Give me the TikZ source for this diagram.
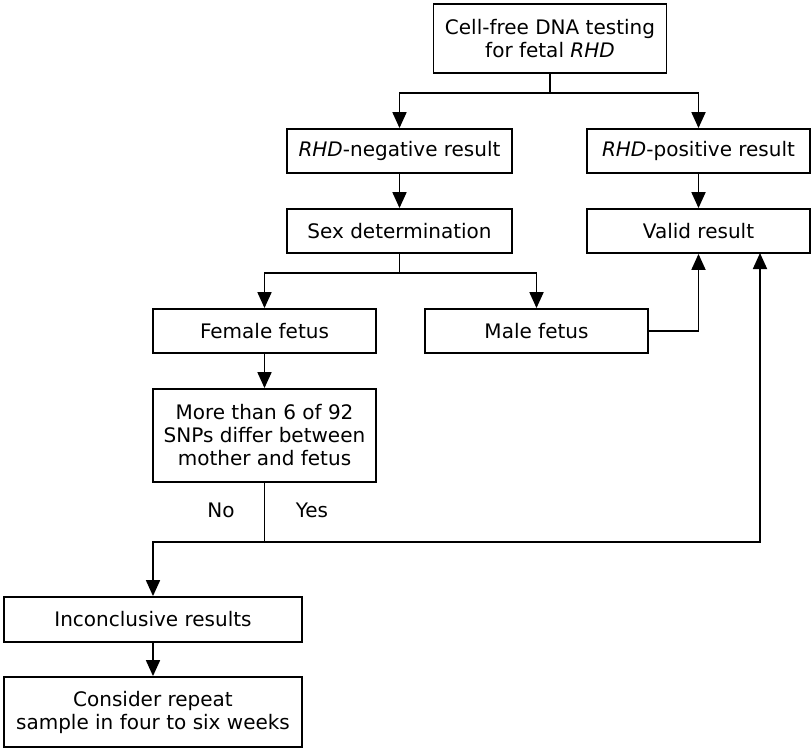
\documentclass[tikz,border=0pt]{standalone}
\usepackage{fontspec}
\setmainfont{DejaVu Sans}
\usetikzlibrary{arrows.meta}

\begin{document}
\begin{tikzpicture}[x=1pt,y=-1pt,
    box/.style={draw,line width=1.8pt,inner sep=0pt,align=center,
      font=\fontsize{20}{23}\selectfont},
    lbl/.style={font=\fontsize{20}{23}\selectfont},
    arr/.style={line width=1.8pt,-{Triangle[width=14pt,length=16pt]}},
    ln/.style={line width=1.8pt}]
    \useasboundingbox (0,0) rectangle (812,748);

    \node[box,minimum width=233,minimum height=69] (start) at (550,38.5) {Cell-free DNA testing\\for fetal \textit{RHD}};
    \node[box,minimum width=225,minimum height=44] (neg) at (399.5,151) {\textit{RHD}-negative result};
    \node[box,minimum width=223,minimum height=44] (pos) at (698.5,151) {\textit{RHD}-positive result};
    \node[box,minimum width=225,minimum height=44] (sex) at (399.5,231) {Sex determination};
    \node[box,minimum width=223,minimum height=44] (valid) at (698.5,231) {Valid result};
    \node[box,minimum width=223,minimum height=44] (female) at (264.5,331) {Female fetus};
    \node[box,minimum width=223,minimum height=44] (male) at (536.5,331) {Male fetus};
    \node[box,minimum width=223,minimum height=93] (snp) at (264.5,435.5) {More than 6 of 92\\SNPs differ between\\mother and fetus};
    \node[box,minimum width=298,minimum height=45] (inconc) at (153,619.5) {Inconclusive results};
    \node[box,minimum width=298,minimum height=70] (repeat) at (153,712) {Consider repeat\\sample in four to six weeks};

    \node[lbl] (no) at (221,510) {No};
    \node[lbl] (yes) at (312,510) {Yes};

    \coordinate (topsplit) at (550,93);
    \coordinate (sexsplit) at (399.5,273);
    \coordinate (snpsplit) at (264.5,542);
    \coordinate (validin) at (760,253);

    \draw[ln] (start.south) -- (topsplit);
    \draw[arr] (topsplit) -| (neg.north);
    \draw[arr] (topsplit) -| (pos.north);
    \draw[arr] (neg) -- (sex);
    \draw[arr] (pos) -- (valid);
    \draw[ln] (sex.south) -- (sexsplit);
    \draw[arr] (sexsplit) -| (female.north);
    \draw[arr] (sexsplit) -| (male.north);
    \draw[arr] (male.east) -| (valid.south);
    \draw[arr] (female) -- (snp);
    \draw[ln] (snp.south) -- (snpsplit);
    \draw[arr] (snpsplit) -| (inconc.north);
    \draw[arr] (snpsplit) -| (validin);
    \draw[arr] (inconc) -- (repeat);
\end{tikzpicture}
\end{document}
